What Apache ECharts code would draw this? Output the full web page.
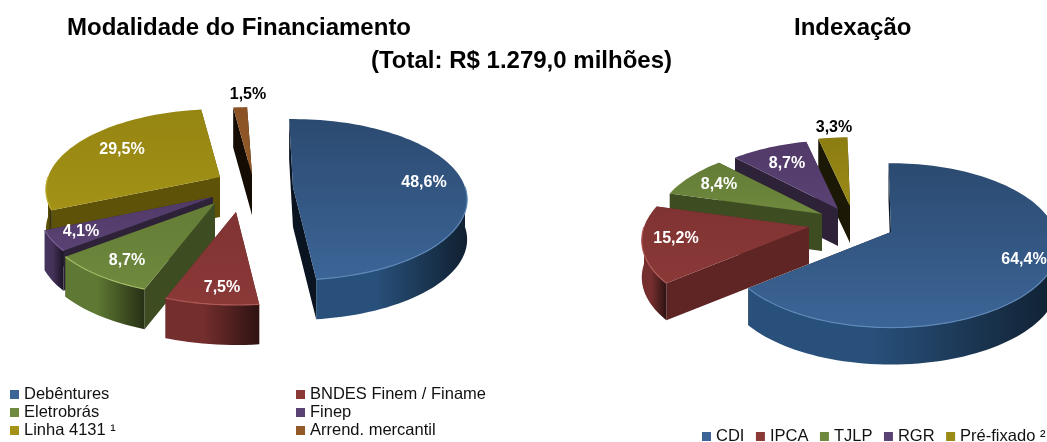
<!DOCTYPE html>
<html>
<head>
<meta charset="utf-8">
<style>
html, body { margin: 0; padding: 0; background: #fff; }
#chart { width: 1047px; height: 442px; }
</style>
<script src="https://cdn.jsdelivr.net/npm/echarts@6/dist/echarts.min.js"></script>
</head>
<body>
<div id="chart"></div>
<script>
// data
const fundingNames = ['Debêntures', 'BNDES Finem / Finame', 'Eletrobrás', 'Finep', 'Linha 4131 ¹', 'Arrend. mercantil'];
const fundingValues = [48.6, 7.5, 8.7, 4.1, 29.5, 1.5];
const indexNames = ['CDI', 'IPCA', 'TJLP', 'RGR', 'Pré-fixado ²'];
const indexValues = [64.4, 15.2, 8.4, 8.7, 3.3];

// colours: [top dark, top light, outer wall, cut wall, highlight]
const blue = ['#2b4a70', '#3c6597', '#28507a', '#0a1420', '#5f88b8'];
const red = ['#7f3332', '#8a3937', '#742e2d', '#5f2424', '#b05a58'];
const green = ['#647c36', '#6f893e', '#5f7833', '#3e4c22', '#a3bd68'];
const purple = ['#513a68', '#5a4274', '#46335c', '#2e2239', '#7b6396'];
const olive = ['#958512', '#a39216', '#5e5208', '#5e5208', '#c0ae30'];
const olive2 = ['#8c7d12', '#9a8a16', '#5e5208', '#1b1905', '#c0ae30'];
const brown = ['#8a5224', '#935a28', '#5c3516', '#150c04', '#b07a48'];

// layout of the two tilted pies
const fundingPie = {
    cx: 250, cy: 190, rx: 172, ry: 78.5, persp: 0.156, depth: 40, start: -1.5,
    colors: [blue, red, green, purple, olive, brown],
    offsets: [[43, -3], [-14, 22], [-35, 13], [-37, 7], [-30, -13], [2, -15]],
    order: [4, 3, 2, 1, 0, 5],
    labels: [[424, 183], [222, 288], [127, 261], [81, 232], [122, 150], [248, 95]],
    labelColors: ['#fff', '#fff', '#fff', '#fff', '#fff', '#000']
};
const indexPie = {
    cx: 850, cy: 210, rx: 165, ry: 80, persp: 0.163, depth: 37, start: -1,
    colors: [blue, red, green, purple, olive2],
    offsets: [[41, 22], [-41, 17], [-28, 4], [-12, -1], [0, -4]],
    order: [0, 4, 3, 2, 1],
    labels: [[1024, 260], [676, 239], [719, 185], [787, 164], [834, 128]],
    labelColors: ['#fff', '#fff', '#fff', '#fff', '#000']
};

function project(pie, off, deg) {
    const a = deg * Math.PI / 180;
    const z = -Math.cos(a);
    const s = 1 / (1 - pie.persp * z);
    return [pie.cx + off[0] + pie.rx * Math.sin(a) * s, pie.cy + off[1] + pie.ry * z * s];
}

function down(p, h) {
    return [p[0], p[1] + h];
}

function fmt(v) {
    return v.toFixed(1).replace('.', ',') + '%';
}

function vGrad(c0, c1) {
    return {type: 'linear', x: 0, y: 0, x2: 0, y2: 1, colorStops: [{offset: 0, color: c0}, {offset: 1, color: c1}]};
}

function wallGrad(c) {
    return {
        type: 'linear', x: 0, y: 0, x2: 1, y2: 0,
        colorStops: [{offset: 0, color: c}, {offset: 0.4, color: c}, {offset: 1, color: echarts.color.lerp(0.6, [c, '#000'])}]
    };
}

function makeSeries(pie, names, values) {
    let from = pie.start;
    return names.map((name, i) => {
        const a0 = from;
        const a1 = from + values[i] * 3.6;
        from = a1;
        const col = pie.colors[i];
        const off = pie.offsets[i];
        return {
            type: 'custom',
            name: name,
            coordinateSystem: 'none',
            silent: true,
            z: 2 + pie.order.indexOf(i),
            itemStyle: {color: col[1]},
            data: [[values[i]]],
            renderItem: (params, api) => {
                const apex = [pie.cx + off[0], pie.cy + off[1]];
                const arc = [];
                for (let d = a0; d < a1; d += 2) arc.push(project(pie, off, d));
                arc.push(project(pie, off, a1));
                const first = arc[0];
                const last = arc[arc.length - 1];
                const h = pie.depth;
                const children = [];
                // cut faces of the wedge
                [first, last].forEach((p) => {
                    children.push({
                        type: 'polygon',
                        shape: {points: [apex, p, down(p, h), down(apex, h)]},
                        style: {fill: col[3]}
                    });
                });
                // outer wall, only the part that faces the viewer
                const front = [];
                for (let d = Math.max(a0, 90); d < Math.min(a1, 270); d += 2) front.push(project(pie, off, d));
                if (a0 < 270 && a1 > 90) {
                    front.push(project(pie, off, Math.min(a1, 270)));
                    const wall = front.concat(front.map((p) => down(p, h)).reverse());
                    children.push({type: 'polygon', shape: {points: wall}, style: {fill: wallGrad(col[2])}});
                }
                // top face
                children.push({
                    type: 'polygon',
                    shape: {points: [apex].concat(arc)},
                    style: {fill: vGrad(col[0], col[1])}
                });
                if (front.length > 1) {
                    children.push({type: 'polyline', shape: {points: front}, style: {fill: null, stroke: col[4], lineWidth: 1.2}});
                }
                children.push({
                    type: 'text',
                    z2: 10,
                    style: {
                        text: fmt(api.value(0)),
                        x: pie.labels[i][0],
                        y: pie.labels[i][1],
                        fill: pie.labelColors[i],
                        font: 'bold 16px "Liberation Sans", Arial, sans-serif',
                        align: 'center',
                        verticalAlign: 'middle'
                    }
                });
                return {type: 'group', children: children};
            }
        };
    });
}

const legendFont = {fontFamily: '"Liberation Sans", Arial, sans-serif', fontSize: 16.5, color: '#111'};
const titleFont = {fontFamily: '"Liberation Sans", Arial, sans-serif', fontSize: 24, fontWeight: 'bold', color: '#000'};

const chart = echarts.init(document.getElementById('chart'));
chart.setOption({
    animation: false,
    title: [
        {text: 'Modalidade do Financiamento', left: 67, top: 16, padding: 0, textStyle: titleFont},
        {text: 'Indexação', left: 794, top: 16, padding: 0, textStyle: titleFont},
        {text: '(Total: R$ 1.279,0 milhões)', left: 371, top: 49, padding: 0, textStyle: titleFont}
    ],
    legend: [
        {
            data: [fundingNames[0], fundingNames[2], fundingNames[4]],
            orient: 'vertical', left: 10, top: 386, padding: 0, itemGap: 1,
            itemWidth: 9, itemHeight: 9, icon: 'rect', textStyle: legendFont, selectedMode: false
        },
        {
            data: [fundingNames[1], fundingNames[3], fundingNames[5]],
            orient: 'vertical', left: 296, top: 386, padding: 0, itemGap: 1,
            itemWidth: 9, itemHeight: 9, icon: 'rect', textStyle: legendFont, selectedMode: false
        },
        {
            data: indexNames,
            orient: 'horizontal', left: 702, top: 428, padding: 0, itemGap: 11.5,
            itemWidth: 9, itemHeight: 9, icon: 'rect', textStyle: legendFont, selectedMode: false
        }
    ],
    series: makeSeries(fundingPie, fundingNames, fundingValues).concat(makeSeries(indexPie, indexNames, indexValues))
});
</script>
</body>
</html>
